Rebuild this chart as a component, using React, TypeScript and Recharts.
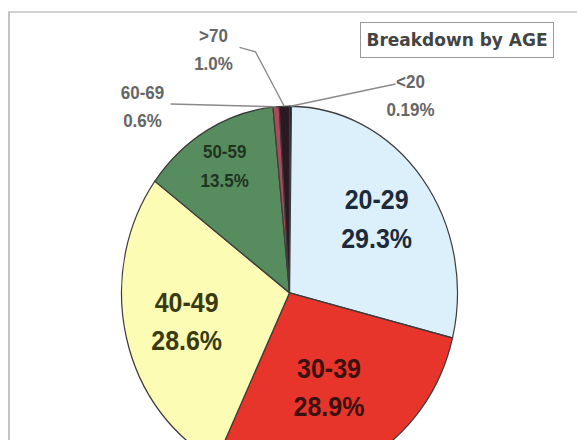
import React from 'react';
import { PieChart, Pie, Cell } from 'recharts';

// age groups, clockwise from 12 o'clock
const AGE_GROUPS = ['<20', '20-29', '30-39', '40-49', '50-59', '60-69', '>70'];
const SHARES = [0.19, 29.3, 28.9, 28.6, 13.5, 0.6, 1.0];
const SHARE_LABELS = ['0.19%', '29.3%', '28.9%', '28.6%', '13.5%', '0.6%', '1.0%'];

const COLORS = ['#15151f', '#dcf0fb', '#e8352b', '#fdfcb5', '#578d5e', '#b04a5a', '#2a1822'];
const TEXT_COLORS = ['#555', '#1c2a3a', '#3a1010', '#3a3a12', '#1f3321', '#555', '#555'];
// inside label distance from centre, as a share of the radius
const LABEL_R = [0, 0.655, 0.555, 0.63, 0.785, 0, 0];

const W = 577;
const H = 396; // stretched to 440 vertically (scan is taller than wide)
const SY = 440 / H;

// callout placement for the tiny slices, offsets from the pie centre
const CALLOUTS: Record<string, { tx: number; ty: number; line: [number, number][] }> = {
  '60-69': { tx: -147, ty: -168, line: [[-119, -170]] },
  '>70': { tx: -76, ty: -219, line: [[-50, -221], [-34, -217]] },
  '<20': { tx: 121, ty: -178, line: [[106, -188]] },
};

const data = AGE_GROUPS.map((name, i) => ({ name, value: SHARES[i], label: SHARE_LABELS[i] }));

const FONT = '"Liberation Sans", Arial, sans-serif';

function renderLabel(props: any) {
  const RAD = Math.PI / 180;
  const { cx, cy, midAngle, outerRadius, percent, index } = props;
  const name = AGE_GROUPS[index];
  const pct = SHARE_LABELS[index];
  const callout = CALLOUTS[name];

  if (callout) {
    const ox = cx + outerRadius * Math.cos(-midAngle * RAD);
    const oy = cy + outerRadius * Math.sin(-midAngle * RAD);
    const pts = [...callout.line.map(([dx, dy]) => `${cx + dx},${cy + dy}`), `${ox},${oy}`].join(' ');
    return (
      <g key={`lbl-${index}`}>
        <polyline points={pts} fill="none" stroke="#8a8a8a" strokeWidth={1.3} />
        <text x={cx + callout.tx} y={cy + callout.ty} textAnchor="middle" fontFamily={FONT}
          fontSize={17} fontWeight="bold" fill="#666">
          <tspan x={cx + callout.tx} dy="-0.4em">{name}</tspan>
          <tspan x={cx + callout.tx} dy="1.5em">{pct}</tspan>
        </text>
      </g>
    );
  }

  const big = percent > 0.2;
  const r = outerRadius * LABEL_R[index];
  const x = cx + r * Math.cos(-midAngle * RAD);
  const y = cy + r * Math.sin(-midAngle * RAD);
  const fs = big ? 25 : 17;
  return (
    <text key={`lbl-${index}`} x={x} y={y} textAnchor="middle" fontFamily={FONT}
      fontSize={fs} fontWeight="bold" fill={TEXT_COLORS[index]}>
      <tspan x={x} dy={big ? '-0.33em' : '-0.4em'}>{name}</tspan>
      <tspan x={x} dy={big ? '1.4em' : '1.55em'}>{pct}</tspan>
    </text>
  );
}

export default function App() {
  return (
    <div style={{ position: 'absolute', left: 0, top: 0, width: W, height: 440, background: '#fff', overflow: 'hidden' }}>
      {/* scanned frame */}
      <div style={{ position: 'absolute', left: 8, top: 11, width: W - 8, height: 2, background: '#d2d2d2' }} />
      <div style={{ position: 'absolute', left: 8, top: 12, width: 2, height: 428, background: '#c4c4c4' }} />

      <div style={{ position: 'absolute', left: 0, top: 0, width: W, height: H, transform: `scaleY(${SY})`, transformOrigin: '0 0' }}>
        <PieChart width={W} height={H} margin={{ top: 0, right: 0, bottom: 0, left: 0 }}>
          <Pie
            data={data}
            dataKey="value"
            nameKey="name"
            cx={289.5}
            cy={263.6}
            outerRadius={168}
            startAngle={90}
            endAngle={-270}
            stroke="#3c3c3c"
            strokeWidth={1.2}
            label={renderLabel}
            labelLine={false}
            isAnimationActive={false}
          >
            {data.map((d, i) => (
              <Cell key={d.name} fill={COLORS[i]} />
            ))}
          </Pie>
        </PieChart>
      </div>

      <div style={{
        position: 'absolute', left: 360, top: 22, width: 192, height: 34, border: '1px solid #9a9a9a',
        display: 'flex', alignItems: 'center', justifyContent: 'center', background: '#fff',
        fontFamily: '"DejaVu Sans", sans-serif', fontWeight: 'bold', fontSize: 17, color: '#444',
      }}>
        Breakdown by AGE
      </div>
    </div>
  );
}
